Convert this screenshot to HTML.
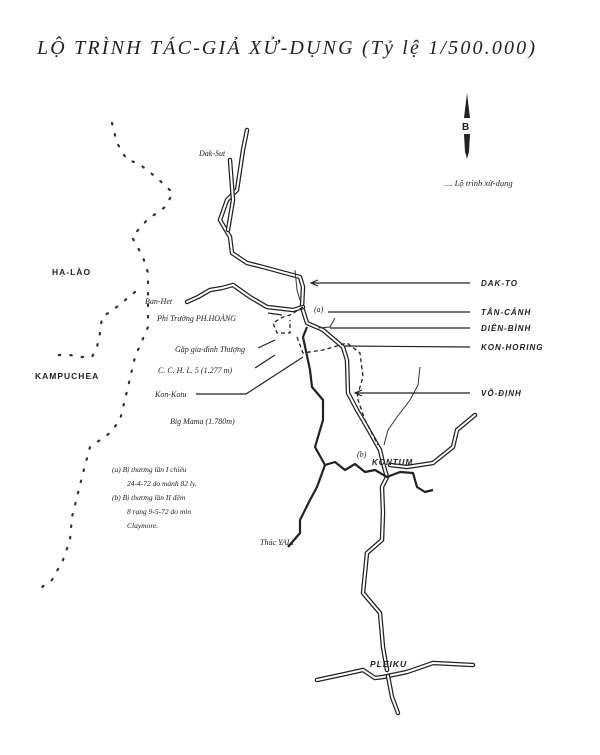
<!DOCTYPE html>
<html><head><meta charset="utf-8"><style>
html,body{margin:0;padding:0;background:#fff}
svg{display:block}
text{font-family:"Liberation Serif",serif;font-style:italic;fill:#222}
.s{font-family:"Liberation Sans",sans-serif;font-weight:bold;font-style:italic;letter-spacing:1px}
.rd1{fill:none;stroke:#222;stroke-width:4.5;stroke-linejoin:round;stroke-linecap:round}
.rd2{fill:none;stroke:#fff;stroke-width:2;stroke-linejoin:round;stroke-linecap:round}
.rv{fill:none;stroke:#222;stroke-width:2.2;stroke-linejoin:round}
.tr{fill:none;stroke:#333;stroke-width:1}
.ld{fill:none;stroke:#222;stroke-width:1.2}
.st{fill:none;stroke:#333;stroke-width:2.2;stroke-dasharray:1.5 10;stroke-linecap:round}
.dash{fill:none;stroke:#222;stroke-width:1.3;stroke-dasharray:4 3}
</style></head><body>
<svg width="600" height="755" viewBox="0 0 600 755" xmlns="http://www.w3.org/2000/svg">
<rect width="600" height="755" fill="#fff"/>
<text x="37" y="54" font-size="20" textLength="498" lengthAdjust="spacing" style="font-weight:normal">LỘ TRÌNH TÁC-GIẢ XỬ-DỤNG (Tỷ lệ 1/500.000)</text>

<!-- north arrow -->
<path d="M467 93 L470 118 L464 118 Z" fill="#222"/>
<text x="462" y="130" font-size="10" class="s" style="font-style:normal">B</text>
<path d="M464 134 L470 134 L469 152 L467 158 L465 152 Z" fill="#222"/>
<line x1="467" y1="134" x2="467" y2="158" stroke="#222" stroke-width="1"/>

<text x="444" y="186" font-size="8.5">.... Lộ trình xử-dụng</text>

<!-- border stars -->
<path class="st" d="M112 123 L117 143 L127 160 L138 163 L157 178 L173 193 L165 207 L147 220 L132 237 L143 257 L148 273 L148 287 L148 327 L135 357 L128 387 L120 420 L110 433 L90 447 L83 473 L72 517 L70 540 L63 560 L52 580 L42 587"/>
<path class="st" d="M135 292 L113 310 L102 317 L100 333 L97 347 L92 357 L80 357 L70 355 L57 355"/>

<!-- roads (double lines) -->
<g>
<path class="rd1" d="M247 130 L243 150 L240 170 L237 190 L227 200 L220 220 L230 237 L232 253 L247 263 L263 267 L300 277 L303 287 L302 307 L307 323 L323 330 L343 347 L347 360 L348 393 L357 410 L367 427 L380 450 L383 463 L387 477 L382 487 L383 513 L382 540 L367 553 L363 593 L380 613 L383 647 L387 670"/>
<path class="rd2" d="M247 130 L243 150 L240 170 L237 190 L227 200 L220 220 L230 237 L232 253 L247 263 L263 267 L300 277 L303 287 L302 307 L307 323 L323 330 L343 347 L347 360 L348 393 L357 410 L367 427 L380 450 L383 463 L387 477 L382 487 L383 513 L382 540 L367 553 L363 593 L380 613 L383 647 L387 670"/>
<path class="rd1" d="M187 302 L198 297 L210 290 L222 288 L233 285 L250 297 L267 307 L293 310 L303 307"/>
<path class="rd2" d="M187 302 L198 297 L210 290 L222 288 L233 285 L250 297 L267 307 L293 310 L303 307"/>
<path class="rd1" d="M317 680 L345 674 L363 670 L375 678 L383 677 L407 672 L433 663 L473 665"/>
<path class="rd2" d="M317 680 L345 674 L363 670 L375 678 L383 677 L407 672 L433 663 L473 665"/>
<path class="rd1" d="M388 676 L392 697 L398 713"/>
<path class="rd2" d="M388 676 L392 697 L398 713"/>
<path class="rd1" d="M390 465 L407 467 L433 463 L453 447 L457 430 L475 415"/>
<path class="rd2" d="M390 465 L407 467 L433 463 L453 447 L457 430 L475 415"/>
<path class="rd1" d="M230 160 L233 200 L228 230"/>
<path class="rd2" d="M230 160 L233 200 L228 230"/>
</g>
<!-- rivers -->
<path class="rv" d="M307 327 L303 337 L310 370 L312 387 L323 400 L323 420 L315 447 L325 465 L335 462 L345 470 L355 464 L365 472 L375 470 L387 477 L400 472 L413 473 L417 487 L425 492 L433 490"/>
<path class="rv" d="M325 465 L317 487 L310 500 L300 520 L300 533 L288 547"/>
<path class="tr" d="M420 367 L418 385 L410 400 L397 417 L388 430 L384 445"/>
<path class="tr" d="M295 270 L297 290 L300 300"/>
<path class="tr" d="M318 328 L330 327 L335 318"/>
<!-- dashed route -->
<path class="dash" d="M303 307 L290 315 L283 317 L273 323 L277 333 L290 333 L290 320 M297 337 L303 353 L323 350 L347 343 L360 353 L363 377 L357 397 L365 420 L378 445"/>

<!-- leader lines -->
<g class="ld">
<line x1="312" y1="283" x2="470" y2="283"/><path d="M318 280 L311 283 L318 286"/>
<line x1="328" y1="312" x2="470" y2="312"/>
<line x1="330" y1="328" x2="470" y2="328"/>
<line x1="345" y1="346" x2="470" y2="347"/>
<line x1="356" y1="393" x2="470" y2="393"/><path d="M362 390 L355 393 L362 396"/>
<line x1="268" y1="313" x2="282" y2="315"/>
<line x1="258" y1="348" x2="275" y2="340"/>
<line x1="255" y1="368" x2="275" y2="355"/>
<line x1="196" y1="394" x2="246" y2="394"/><line x1="246" y1="394" x2="303" y2="357"/>
</g>

<!-- labels -->
<text x="199" y="156" font-size="8">Dak-Sut</text>
<text class="s" x="481" y="286" font-size="8">DAK-TO</text>
<text x="314" y="312" font-size="8">(a)</text>
<text class="s" x="481" y="315" font-size="8">TÂN-CẢNH</text>
<text class="s" x="481" y="331" font-size="8">DIÊN-BÌNH</text>
<text class="s" x="481" y="350" font-size="8">KON-HORING</text>
<text class="s" x="481" y="396" font-size="8">VÕ-ĐỊNH</text>
<text class="s" x="52" y="275" font-size="8.5" style="font-style:normal">HẠ-LÀO</text>
<text class="s" x="35" y="379" font-size="8.5" style="font-style:normal">KAMPUCHEA</text>
<text x="145" y="304" font-size="8">Ban-Het</text>
<text x="157" y="321" font-size="8">Phi Trường PH.HOÀNG</text>
<text x="175" y="352" font-size="8">Gặp gia-đình Thượng</text>
<text x="158" y="373" font-size="8">C. C. H. L. 5  (1.277 m)</text>
<text x="155" y="397" font-size="8">Kon-Kotu</text>
<text x="170" y="424" font-size="8">Big Mama (1.780m)</text>
<text x="357" y="457" font-size="8">(b)</text>
<text class="s" x="372" y="465" font-size="8">KONTUM</text>
<text x="260" y="545" font-size="8">Thác YALI</text>
<text class="s" x="370" y="667" font-size="8.5">PLEIKU</text>
<text x="112" y="472" font-size="7.5">(a)  Bị thương lần I chiều</text>
<text x="127" y="486" font-size="7.5">24-4-72 do mảnh 82 ly.</text>
<text x="112" y="500" font-size="7.5">(b)  Bị thương lần II  đêm</text>
<text x="127" y="514" font-size="7.5">8 rạng 9-5-72 do mìn</text>
<text x="127" y="528" font-size="7.5">Claymore.</text>
</svg>
</body></html>
